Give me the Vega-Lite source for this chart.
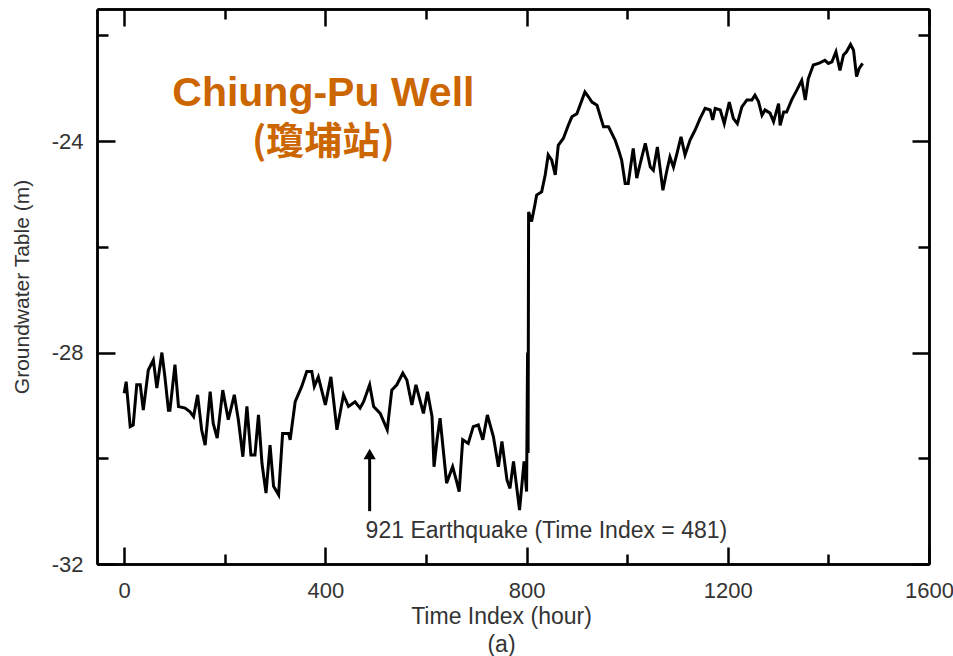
{
  "$schema": "https://vega.github.io/schema/vega-lite/v6.json",
  "width": 832,
  "height": 555,
  "autosize": {"type": "none"},
  "padding": {"left": 97, "top": 9, "right": 24, "bottom": 92},
  "background": "white",
  "config": {
    "view": {"stroke": null},
    "font": "Liberation Sans",
    "axis": {
      "domainColor": "black",
      "domainWidth": 2.5,
      "tickColor": "black",
      "tickWidth": 2.5,
      "grid": false,
      "labelFont": "Liberation Sans",
      "labelFontSize": 22,
      "labelColor": "#333",
      "labelFlush": false,
      "labelOverlap": false,
      "labelExpr": "'' + datum.value",
      "titleFont": "Liberation Sans",
      "titleFontSize": 23,
      "titleFontWeight": "normal",
      "titleColor": "#333"
    }
  },
  "datasets": {
    "well": [
      {"t": 0, "v": -28.77}, {"t": 4, "v": -28.55}, {"t": 12, "v": -29.4}, {"t": 18, "v": -29.37},
      {"t": 25, "v": -28.61}, {"t": 32, "v": -28.61}, {"t": 38, "v": -29.09}, {"t": 48, "v": -28.33},
      {"t": 58, "v": -28.14}, {"t": 65, "v": -28.67}, {"t": 75, "v": -28.0}, {"t": 81, "v": -28.46},
      {"t": 88, "v": -29.09}, {"t": 91, "v": -29.09}, {"t": 101, "v": -28.23}, {"t": 108, "v": -29.02},
      {"t": 121, "v": -29.05}, {"t": 131, "v": -29.12}, {"t": 138, "v": -29.21}, {"t": 146, "v": -28.8},
      {"t": 154, "v": -29.46}, {"t": 161, "v": -29.75}, {"t": 171, "v": -28.74}, {"t": 177, "v": -29.34},
      {"t": 185, "v": -29.62}, {"t": 196, "v": -28.71}, {"t": 207, "v": -29.27}, {"t": 219, "v": -28.8},
      {"t": 227, "v": -29.27}, {"t": 236, "v": -29.97}, {"t": 244, "v": -29.02}, {"t": 252, "v": -29.94},
      {"t": 260, "v": -29.94}, {"t": 267, "v": -29.18}, {"t": 274, "v": -30.1}, {"t": 282, "v": -30.66},
      {"t": 290, "v": -29.75}, {"t": 297, "v": -30.53}, {"t": 307, "v": -30.69}, {"t": 315, "v": -29.53},
      {"t": 327, "v": -29.53}, {"t": 330, "v": -29.65}, {"t": 340, "v": -28.93}, {"t": 353, "v": -28.64},
      {"t": 363, "v": -28.36}, {"t": 373, "v": -28.36}, {"t": 378, "v": -28.64}, {"t": 386, "v": -28.46},
      {"t": 400, "v": -28.99}, {"t": 411, "v": -28.46}, {"t": 423, "v": -29.46}, {"t": 436, "v": -28.8},
      {"t": 446, "v": -29.02}, {"t": 459, "v": -28.93}, {"t": 469, "v": -29.05}, {"t": 476, "v": -28.93},
      {"t": 488, "v": -28.61}, {"t": 496, "v": -29.02}, {"t": 509, "v": -29.15}, {"t": 523, "v": -29.46},
      {"t": 532, "v": -28.71}, {"t": 542, "v": -28.61}, {"t": 554, "v": -28.39}, {"t": 562, "v": -28.52},
      {"t": 572, "v": -28.99}, {"t": 580, "v": -28.61}, {"t": 588, "v": -28.9}, {"t": 595, "v": -29.15},
      {"t": 603, "v": -28.74}, {"t": 612, "v": -29.21}, {"t": 616, "v": -30.16}, {"t": 622, "v": -29.65},
      {"t": 628, "v": -29.24}, {"t": 635, "v": -29.9}, {"t": 641, "v": -30.47}, {"t": 653, "v": -30.16},
      {"t": 661, "v": -30.44}, {"t": 666, "v": -30.63}, {"t": 673, "v": -29.65}, {"t": 684, "v": -29.72},
      {"t": 694, "v": -29.4}, {"t": 704, "v": -29.37}, {"t": 713, "v": -29.65}, {"t": 722, "v": -29.18},
      {"t": 734, "v": -29.59}, {"t": 744, "v": -30.16}, {"t": 751, "v": -29.68}, {"t": 761, "v": -30.41},
      {"t": 767, "v": -30.57}, {"t": 774, "v": -30.06}, {"t": 786, "v": -30.98}, {"t": 795, "v": -30.06},
      {"t": 800, "v": -30.63}, {"t": 802, "v": -28.0}, {"t": 803, "v": -29.9}, {"t": 804, "v": -25.34},
      {"t": 810, "v": -25.52}, {"t": 817, "v": -25.18}, {"t": 820, "v": -25.02}, {"t": 830, "v": -24.96},
      {"t": 837, "v": -24.64}, {"t": 843, "v": -24.26}, {"t": 850, "v": -24.36}, {"t": 857, "v": -24.64},
      {"t": 863, "v": -24.08}, {"t": 873, "v": -23.95}, {"t": 883, "v": -23.7}, {"t": 890, "v": -23.54},
      {"t": 900, "v": -23.48}, {"t": 916, "v": -23.07}, {"t": 923, "v": -23.16}, {"t": 930, "v": -23.26},
      {"t": 940, "v": -23.32}, {"t": 953, "v": -23.73}, {"t": 963, "v": -23.73}, {"t": 976, "v": -23.98},
      {"t": 983, "v": -24.17}, {"t": 989, "v": -24.36}, {"t": 996, "v": -24.8}, {"t": 1002, "v": -24.8},
      {"t": 1012, "v": -24.14}, {"t": 1019, "v": -24.7}, {"t": 1026, "v": -24.42}, {"t": 1036, "v": -24.04},
      {"t": 1046, "v": -24.49}, {"t": 1052, "v": -24.55}, {"t": 1060, "v": -24.11}, {"t": 1071, "v": -24.93},
      {"t": 1079, "v": -24.55}, {"t": 1085, "v": -24.3}, {"t": 1092, "v": -24.49}, {"t": 1099, "v": -24.23},
      {"t": 1107, "v": -23.92}, {"t": 1115, "v": -24.26}, {"t": 1125, "v": -23.98}, {"t": 1135, "v": -23.79},
      {"t": 1145, "v": -23.57}, {"t": 1155, "v": -23.38}, {"t": 1165, "v": -23.41}, {"t": 1170, "v": -23.6},
      {"t": 1175, "v": -23.38}, {"t": 1185, "v": -23.41}, {"t": 1193, "v": -23.67}, {"t": 1203, "v": -23.26},
      {"t": 1211, "v": -23.57}, {"t": 1219, "v": -23.67}, {"t": 1228, "v": -23.35}, {"t": 1238, "v": -23.22},
      {"t": 1248, "v": -23.22}, {"t": 1254, "v": -23.13}, {"t": 1261, "v": -23.25}, {"t": 1268, "v": -23.51},
      {"t": 1274, "v": -23.41}, {"t": 1284, "v": -23.47}, {"t": 1291, "v": -23.63}, {"t": 1301, "v": -23.29},
      {"t": 1304, "v": -23.7}, {"t": 1311, "v": -23.45}, {"t": 1317, "v": -23.45}, {"t": 1327, "v": -23.22},
      {"t": 1337, "v": -23.04}, {"t": 1347, "v": -22.85}, {"t": 1354, "v": -23.22}, {"t": 1360, "v": -22.82},
      {"t": 1370, "v": -22.56}, {"t": 1383, "v": -22.52}, {"t": 1393, "v": -22.47}, {"t": 1400, "v": -22.53},
      {"t": 1407, "v": -22.5}, {"t": 1415, "v": -22.31}, {"t": 1423, "v": -22.66}, {"t": 1430, "v": -22.37},
      {"t": 1436, "v": -22.31}, {"t": 1444, "v": -22.17}, {"t": 1450, "v": -22.28}, {"t": 1456, "v": -22.78},
      {"t": 1461, "v": -22.63}, {"t": 1468, "v": -22.53}
    ],
    "single": [{"note": "one"}]
  },
  "layer": [
    {
      "data": {"name": "well"},
      "mark": {"type": "line", "color": "black", "strokeWidth": 3, "strokeJoin": "miter"},
      "encoding": {
        "x": {
          "field": "t", "type": "quantitative",
          "scale": {"domain": [-54, 1600], "nice": false, "zero": false},
          "axis": {"orient": "bottom", "values": [0, 400, 800, 1200, 1600], "tickSize": -17, "labelPadding": 33,
                   "title": ["Time Index (hour)", "(a)"], "titleLineHeight": 28, "titlePadding": 4, "titleX": 404}
        },
        "y": {
          "field": "v", "type": "quantitative",
          "scale": {"domain": [-32, -21.5], "nice": false, "zero": false},
          "axis": {"orient": "left", "values": [-32, -28, -24], "tickSize": -18, "labelPadding": 32,
                   "title": "Groundwater Table (m)", "titleFontSize": 21, "titlePadding": 19}
        }
      }
    },
    {
      "data": {"name": "single"},
      "mark": {"type": "rule", "color": "black", "strokeWidth": 3},
      "encoding": {
        "x": {"datum": 488, "type": "quantitative",
              "axis": {"orient": "top", "values": [0, 400, 800, 1200, 1600], "tickSize": -17, "labels": false, "title": null}},
        "y": {"datum": -31.0, "type": "quantitative",
              "axis": {"orient": "right", "values": [-32, -28, -24], "tickSize": -17, "labels": false, "title": null}},
        "y2": {"datum": -30.0}
      }
    },
    {
      "data": {"name": "single"},
      "mark": {"type": "point", "shape": "triangle-up", "filled": true, "color": "black", "size": 150, "opacity": 1},
      "encoding": {
        "x": {"datum": 488, "type": "quantitative",
              "axis": {"orient": "bottom", "values": [200, 600, 1000, 1400], "tickSize": -10, "labels": false, "title": null}},
        "y": {"datum": -29.92, "type": "quantitative",
              "axis": {"orient": "left", "values": [-30, -26, -22], "tickSize": -11, "labels": false, "title": null}}
      }
    },
    {
      "data": {"name": "single"},
      "mark": {"type": "text", "align": "left", "baseline": "alphabetic", "fontSize": 23, "color": "#333", "font": "Liberation Sans"},
      "encoding": {
        "text": {"value": "921 Earthquake (Time Index = 481)"},
        "x": {"datum": 480, "type": "quantitative",
              "axis": {"orient": "top", "values": [200, 600, 1000, 1400], "tickSize": -10, "labels": false, "title": null}},
        "y": {"datum": -31.5, "type": "quantitative",
              "axis": {"orient": "right", "values": [-30, -26, -22], "tickSize": -11, "labels": false, "title": null}}
      }
    },
    {
      "data": {"name": "single"},
      "mark": {"type": "text", "align": "center", "baseline": "alphabetic", "fontSize": 41, "fontWeight": "bold", "color": "#CC6600", "font": "Liberation Sans"},
      "encoding": {
        "text": {"value": "Chiung-Pu Well"},
        "x": {"datum": 396, "type": "quantitative", "axis": null},
        "y": {"datum": -23.34, "type": "quantitative", "axis": null}
      }
    },
    {
      "data": {"name": "single"},
      "mark": {"type": "text", "align": "center", "baseline": "middle", "fontSize": 38, "fontWeight": "bold", "color": "#CC6600", "font": "Noto Sans CJK TC"},
      "encoding": {
        "text": {"value": "(瓊埔站)"},
        "x": {"datum": 396, "type": "quantitative", "axis": null},
        "y": {"datum": -24.04, "type": "quantitative", "axis": null}
      }
    }
  ],
  "resolve": {"axis": {"x": "independent", "y": "independent"}}
}
